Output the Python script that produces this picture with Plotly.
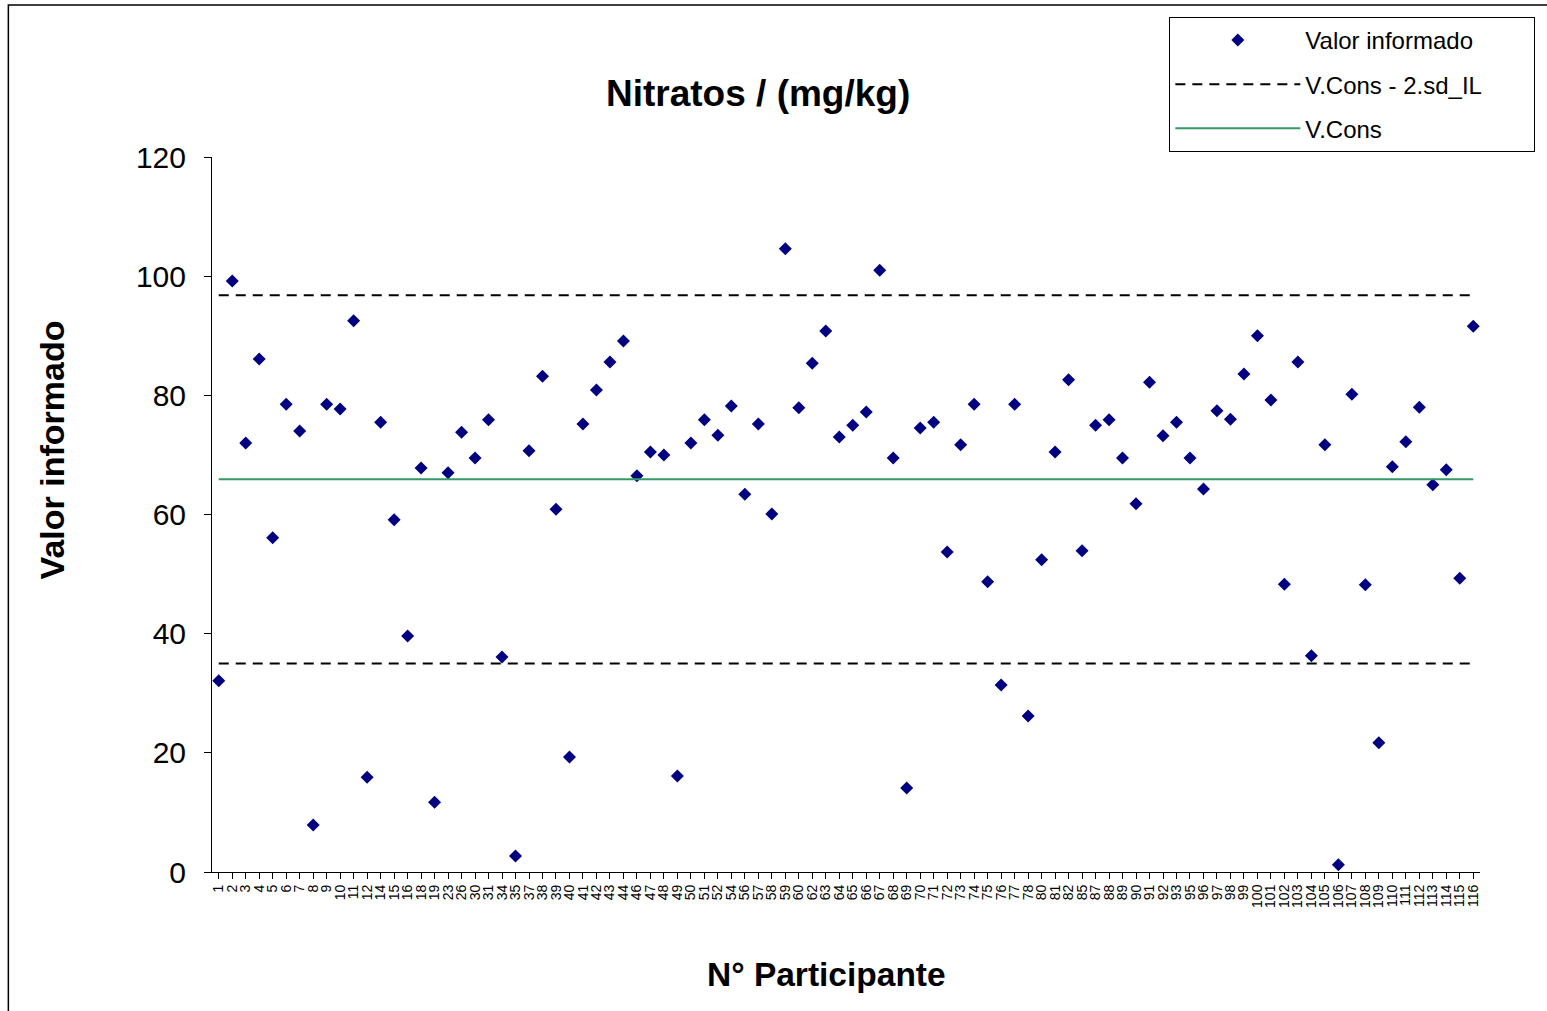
import plotly.graph_objects as go

# Participant numbers (category axis) and reported nitrate values (mg/kg)
participantes = [
    "1", "2", "3", "4", "5", "6", "7", "8", "9", "10", "11", "12", "14", "15", "16", "18", "19",
    "23", "26", "30", "31", "34", "35", "37", "38", "39", "40", "41", "42", "43", "44", "46",
    "47", "48", "49", "50", "51", "52", "54", "56", "57", "58", "59", "60", "62", "63", "64",
    "65", "66", "67", "68", "69", "70", "71", "72", "73", "74", "75", "76", "77", "78", "80",
    "81", "82", "85", "87", "88", "89", "90", "91", "92", "93", "95", "96", "97", "98", "99",
    "100", "101", "102", "103", "104", "105", "106", "107", "108", "109", "110", "111", "112",
    "113", "114", "115", "116",
]

valor_informado = [
    32.1, 99.2, 72.0, 86.1, 56.1, 78.5, 74.0, 7.9, 78.5, 77.7, 92.5, 15.9, 75.5, 59.1, 39.6,
    67.8, 11.7, 67.0, 73.8, 69.5, 75.9, 36.1, 2.7, 70.7, 83.2, 60.9, 19.3, 75.2, 80.9, 85.6,
    89.1, 66.5, 70.5, 70.0, 16.1, 72.0, 75.9, 73.3, 78.2, 63.4, 75.2, 60.1, 104.6, 77.9, 85.4,
    90.8, 73.0, 75.0, 77.2, 101.0, 69.5, 14.1, 74.5, 75.5, 53.7, 71.7, 78.5, 48.7, 31.4, 78.5,
    26.2, 52.4, 70.5, 82.6, 53.9, 75.0, 75.9, 69.5, 61.8, 82.2, 73.2, 75.5, 69.5, 64.3, 77.4,
    76.0, 83.6, 90.0, 79.2, 48.3, 85.6, 36.3, 71.7, 1.2, 80.2, 48.2, 21.7, 68.0, 72.2, 78.0,
    65.0, 67.5, 49.3, 91.6,
]

# Consensus value and the +/- 2 sd interlaboratory limits
v_cons = 65.9
lim_sup = 96.8
lim_inf = 35.0

FONT = "Arial, Liberation Sans, sans-serif"
PAD = "\u00a0" * 7  # trailing space inside the legend box

fig = go.Figure()

fig.add_trace(go.Scatter(
    x=participantes, y=valor_informado, mode="markers",
    name="Valor informado" + PAD, legendgroup="a",
    marker=dict(symbol="diamond", size=10, color="#000080"),
))
fig.add_trace(go.Scatter(
    x=participantes, y=[lim_sup] * len(participantes), mode="lines",
    name="V.Cons - 2.sd_IL" + PAD, legendgroup="b",
    line=dict(color="black", width=2, dash="10px,7px"),
))
fig.add_trace(go.Scatter(
    x=participantes, y=[lim_inf] * len(participantes), mode="lines",
    name="V.Cons - 2.sd_IL" + PAD, legendgroup="b", showlegend=False,
    line=dict(color="black", width=2, dash="10px,7px"),
))
fig.add_trace(go.Scatter(
    x=participantes, y=[v_cons] * len(participantes), mode="lines",
    name="V.Cons" + PAD, legendgroup="c",
    line=dict(color="#339966", width=2),
))

fig.update_layout(
    width=1547, height=1011,
    margin=dict(l=212, r=65, t=157, b=139),
    paper_bgcolor="white", plot_bgcolor="white",
    font=dict(family=FONT, color="black"),
    showlegend=True,
    legend=dict(
        x=0.755, y=1.196, xanchor="left", yanchor="top",
        bordercolor="black", borderwidth=1, bgcolor="white",
        font=dict(family=FONT, size=24, color="black"),
        tracegroupgap=10, itemwidth=125,
    ),
    xaxis=dict(
        type="category", showgrid=False, zeroline=False,
        range=[-0.5, len(participantes) - 0.5],
        showline=True, linecolor="black", linewidth=1,
        ticks="outside", ticklen=6, tickcolor="black",
        tickangle=-90, tickfont=dict(size=14, family=FONT), dtick=1,
    ),
    yaxis=dict(
        range=[0, 120], dtick=20, showgrid=False, zeroline=False,
        showline=True, linecolor="black", linewidth=1,
        ticks="outside", ticklen=7, tickcolor="black",
        tickfont=dict(size=30, family=FONT), ticklabelstandoff=12,
    ),
    annotations=[
        dict(text="<b>Nitratos / (mg/kg)</b>", xref="paper", yref="paper",
             x=0.4307, y=1.0895, xanchor="center", yanchor="middle",
             showarrow=False, font=dict(size=37, family=FONT)),
        dict(text="<b>Valor informado</b>", xref="paper", yref="paper",
             x=-0.126, y=0.59, xanchor="center", yanchor="middle", textangle=-90,
             showarrow=False, font=dict(size=34, family=FONT)),
        dict(text="<b>N° Participante</b>", xref="paper", yref="paper",
             x=0.4843, y=-0.144, xanchor="center", yanchor="middle",
             showarrow=False, font=dict(size=33.5, family=FONT)),
    ],
    shapes=[
        dict(type="rect", xref="paper", yref="paper",
             x0=-0.1606, x1=1.07, y0=-0.25, y1=1.2126,
             line=dict(color="black", width=1.5), fillcolor="rgba(0,0,0,0)", layer="below"),
    ],
)

fig.write_html("out.html")
